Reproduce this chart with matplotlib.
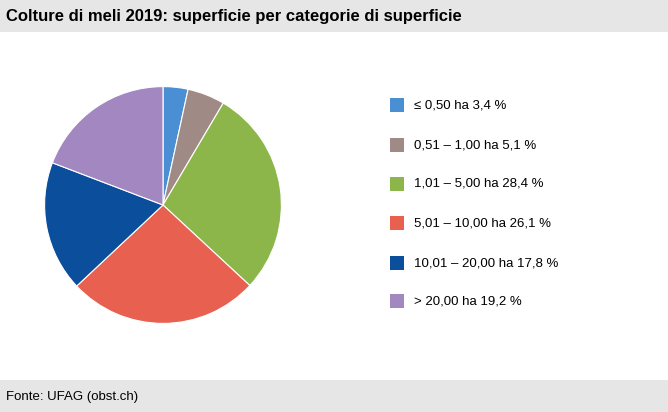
import matplotlib
matplotlib.use("Agg")
import matplotlib.pyplot as plt
from matplotlib.patches import Rectangle

categories = ["≤ 0,50 ha", "0,51 – 1,00 ha", "1,01 – 5,00 ha",
              "5,01 – 10,00 ha", "10,01 – 20,00 ha", "> 20,00 ha"]
shares = [3.4, 5.1, 28.4, 26.1, 17.8, 19.2]
colors = ["#4a8fd4", "#a08a86", "#8db64a", "#e8604f", "#0b4f9c", "#a387c0"]

W, H = 668, 412
fig = plt.figure(figsize=(W / 100, H / 100), dpi=100)
fig.patch.set_facecolor("#e6e6e6")

# white panel
fig.patches.append(Rectangle((0, 32 / H), 1, (380 - 32) / H, transform=fig.transFigure,
                             facecolor="white", edgecolor="none", zorder=-5))

fig.text(6 / W, 1 - 17 / H, "Colture di meli 2019: superficie per categorie di superficie",
         fontsize=12, fontweight="bold", family="Liberation Sans", va="center")
fig.text(6 / W, 1 - 397 / H, "Fonte: UFAG (obst.ch)", fontsize=9.5,
         family="Liberation Sans", va="center")

r = 148
ax = fig.add_axes([(163 - r) / W, 1 - (205 + r) / H, 2 * r / W, 2 * r / H], zorder=5)
ax.patch.set_visible(False)
ax.pie(shares, colors=colors, startangle=90, counterclock=False,
       wedgeprops=dict(linewidth=0.8, edgecolor="white"))
ax.set_aspect("equal")

ys = [105, 145, 184, 223, 263, 301]
for lab, val, c, y in zip(categories, shares, colors, ys):
    fig.patches.append(Rectangle((390 / W, 1 - (y + 7) / H), 14 / W, 14 / H,
                                 transform=fig.transFigure, facecolor=c, edgecolor="none"))
    fig.text(414 / W, 1 - y / H, f"{lab} {val:.1f} %".replace(".", ","),
             fontsize=9.5, family="Liberation Sans", va="center")

fig.savefig("out.png", dpi=100, facecolor=fig.get_facecolor())
